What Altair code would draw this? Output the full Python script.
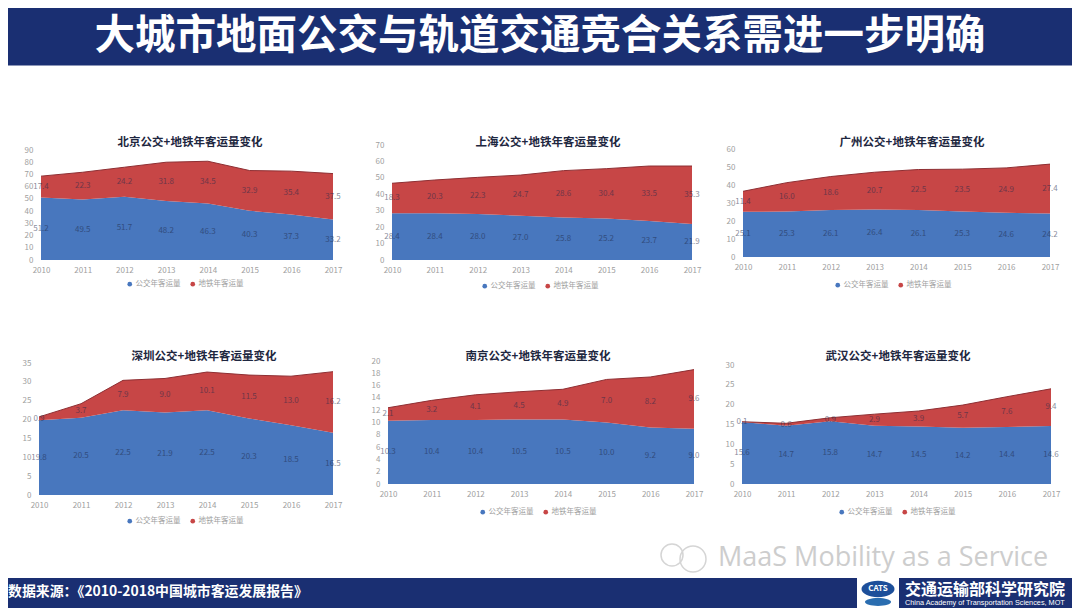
import altair as alt
import pandas as pd

FONT = "Noto Sans CJK SC"
BLUE, RED = "#4877BE", "#C74646"
NAVY = "#1A2F72"
SERIES = ["公交年客运量", "地铁年客运量"]
YEARS = [2010, 2011, 2012, 2013, 2014, 2015, 2016, 2017]

beijing_bus = [51.2, 49.5, 51.7, 48.2, 46.3, 40.3, 37.3, 33.2]
beijing_metro = [17.4, 22.3, 24.2, 31.8, 34.5, 32.9, 35.4, 37.5]
shanghai_bus = [28.4, 28.4, 28.0, 27.0, 25.8, 25.2, 23.7, 21.9]
shanghai_metro = [18.3, 20.3, 22.3, 24.7, 28.6, 30.4, 33.5, 35.3]
guangzhou_bus = [25.1, 25.3, 26.1, 26.4, 26.1, 25.3, 24.6, 24.2]
guangzhou_metro = [11.4, 16.0, 18.6, 20.7, 22.5, 23.5, 24.9, 27.4]
shenzhen_bus = [19.8, 20.5, 22.5, 21.9, 22.5, 20.3, 18.5, 16.5]
shenzhen_metro = [0.9, 3.7, 7.9, 9.0, 10.1, 11.5, 13.0, 16.2]
nanjing_bus = [10.3, 10.4, 10.4, 10.5, 10.5, 10.0, 9.2, 9.0]
nanjing_metro = [2.1, 3.2, 4.1, 4.5, 4.9, 7.0, 8.2, 9.6]
wuhan_bus = [15.6, 14.7, 15.8, 14.7, 14.5, 14.2, 14.4, 14.6]
wuhan_metro = [0.1, 0.6, 0.9, 2.9, 3.9, 5.7, 7.6, 9.4]

MAIN_TITLE = "大城市地面公交与轨道交通竞合关系需进一步明确"
SOURCE = "数据来源：《2010-2018中国城市客运发展报告》"
ORG_CN = "交通运输部科学研究院"
ORG_EN = "China Academy of Transportation Sciences, MOT"
WATERMARK = "MaaS Mobility as a Service"

PAGE_W = 1064
ROW1_H, ROW2_H = 254, 258
CELL_W = [360, 360, 344]
OVAL = "M -1 0 A 1 0.5 0 1 0 1 0 A 1 0.5 0 1 0 -1 0 Z"
FLAT_OVAL = "M -1 0 A 1 0.3 0 1 0 1 0 A 1 0.3 0 1 0 -1 0 Z"


def one(**kw):
    return alt.Chart(pd.DataFrame([kw]))


def text(value, x, y, size, color, weight="normal", align="center", opacity=1.0, font=FONT):
    return one(t=value).mark_text(
        font=font, fontSize=size, color=color, fontWeight=weight, align=align,
        baseline="middle", opacity=opacity,
    ).encode(x=alt.value(x), y=alt.value(y), text="t:N")


def panel(title, bus, metro, top, step, xr, yr, view_w, view_h, title_xy, legend_xy, extra=()):
    rows = []
    for yr_, b, m in zip(YEARS, bus, metro):
        rows.append(dict(year=yr_, series=SERIES[0], ord=0, value=b, mid=b / 2, total=b))
        rows.append(dict(year=yr_, series=SERIES[1], ord=1, value=m, mid=b + m / 2, total=b + m))
    df = pd.DataFrame(rows)
    xs = alt.Scale(type="point", range=xr, padding=0)
    ys = alt.Scale(domain=[0, top], range=yr, nice=False, zero=True)
    x_axis = alt.Axis(
        labelAngle=0, labelColor="#a0a0a0", labelFont=FONT, labelFontSize=8,
        domain=False, ticks=False, offset=yr[0] - view_h, labelPadding=6,
    )
    y_axis = alt.Axis(
        values=list(range(0, top + 1, step)), grid=False, domain=False, ticks=False,
        labelColor="#a0a0a0", labelFont=FONT, labelFontSize=8, labelOverlap=False,
        offset=-xr[0], labelPadding=8,
    )
    area = alt.Chart(df).mark_area(opacity=1, interpolate="linear").encode(
        x=alt.X("year:O", scale=xs, title=None, axis=x_axis),
        y=alt.Y("value:Q", stack=True, scale=ys, title=None, axis=y_axis),
        color=alt.Color(
            "series:N", scale=alt.Scale(domain=SERIES, range=[BLUE, RED]),
            legend=alt.Legend(
                title=None, orient="none", legendX=legend_xy[0], legendY=legend_xy[1],
                direction="horizontal", symbolType="circle", symbolSize=22, labelFont=FONT,
                labelFontSize=7.5, labelColor="#a0a0a0", columnPadding=8, labelOffset=2,
                symbolStrokeWidth=0,
            ),
        ),
        order=alt.Order("ord:Q"),
    )
    edge = alt.Chart(df[df.ord == 1]).mark_line(color="#8E2F33", strokeWidth=1).encode(
        x=alt.X("year:O", scale=xs, title=None, axis=x_axis),
        y=alt.Y("total:Q", scale=ys, title=None, axis=y_axis),
    )
    labels = alt.Chart(df).mark_text(
        font=FONT, fontSize=8, color="#1F2A4A", opacity=0.55
    ).encode(
        x=alt.X("year:O", scale=xs, title=None, axis=x_axis),
        y=alt.Y("mid:Q", scale=ys, title=None, axis=y_axis),
        text=alt.Text("value:Q", format=".1f"),
    )
    head = text(title, title_xy[0], title_xy[1], 11.5, "#1E2740", weight="bold")
    return alt.layer(area, edge, labels, head, *extra).properties(width=view_w, height=view_h)


watermark = (
    text(WATERMARK, -10, 238, 27, "#CDCDCD", align="left", font="Open Sans"),
    one(a=1).mark_point(shape="circle", filled=False, color="#D5D5D5", size=484, strokeWidth=1.5, opacity=1).encode(x=alt.value(-56), y=alt.value(235)),
    one(a=1).mark_point(shape="circle", filled=False, color="#D5D5D5", size=676, strokeWidth=1.5, opacity=1).encode(x=alt.value(-35), y=alt.value(239)),
)

p1 = panel("北京公交+地铁年客运量变化", beijing_bus, beijing_metro, 90, 10, [33, 325], [194, 84],
           CELL_W[0], ROW1_H, (182, 77), (118, 214))
p2 = panel("上海公交+地铁年客运量变化", shanghai_bus, shanghai_metro, 70, 10, [24, 324], [194, 79],
           CELL_W[1], ROW1_H, (180, 77), (113, 216))
p3 = panel("广州公交+地铁年客运量变化", guangzhou_bus, guangzhou_metro, 60, 10, [15, 322], [191, 83],
           CELL_W[2], ROW1_H, (184, 77), (106, 215))
p4 = panel("深圳公交+地铁年客运量变化", shenzhen_bus, shenzhen_metro, 35, 5, [31, 325], [175, 43],
           CELL_W[0], ROW2_H, (196, 37), (118, 197))
p5 = panel("南京公交+地铁年客运量变化", nanjing_bus, nanjing_metro, 20, 2, [20, 326], [164, 41],
           CELL_W[1], ROW2_H, (170, 37), (111, 188))
p6 = panel("武汉公交+地铁年客运量变化", wuhan_bus, wuhan_metro, 30, 5, [14, 323], [164, 45],
           CELL_W[2], ROW2_H, (170, 37), (110, 188), extra=watermark)

banner = alt.layer(
    one(a=1).mark_rect(color=NAVY).encode(x=alt.value(0), x2=alt.value(PAGE_W), y=alt.value(0), y2=alt.value(57.5)),
    text(MAIN_TITLE, 532, 28.5, 40.5, "white", weight="bold"),
).properties(width=PAGE_W, height=58)

footer = alt.layer(
    one(a=1).mark_rect(color=NAVY).encode(x=alt.value(0), x2=alt.value(PAGE_W), y=alt.value(0), y2=alt.value(30)),
    one(a=1).mark_rect(color="white").encode(x=alt.value(849), x2=alt.value(891), y=alt.value(0), y2=alt.value(30)),
    one(a=1).mark_point(shape=OVAL, filled=True, color="#1D4F9A", size=1089, opacity=1).encode(x=alt.value(870), y=alt.value(11)),
    text("CATS", 870, 11, 8, "white", weight="bold"),
    one(a=1).mark_point(shape=FLAT_OVAL, filled=True, color="#2A6DB0", size=676, opacity=1).encode(x=alt.value(870), y=alt.value(24)),
    text(SOURCE, 0, 14, 13.9, "white", weight="bold", align="left"),
    text(ORG_CN, 897, 12, 16, "white", weight="bold", align="left"),
    text(ORG_EN, 897, 25, 7.3, "white", align="left", font="Liberation Sans"),
).properties(width=PAGE_W, height=30)

row1 = alt.hconcat(p1, p2, p3, spacing=0, bounds="flush").resolve_scale(color="independent")
row2 = alt.hconcat(p4, p5, p6, spacing=0, bounds="flush").resolve_scale(color="independent")

chart = alt.vconcat(banner, row1, row2, footer, spacing=0).resolve_scale(
    color="independent"
).properties(
    padding=0, background="white"
).configure_view(stroke=None)

chart.save("out.html", embed_options={"renderer": "svg", "actions": False})
